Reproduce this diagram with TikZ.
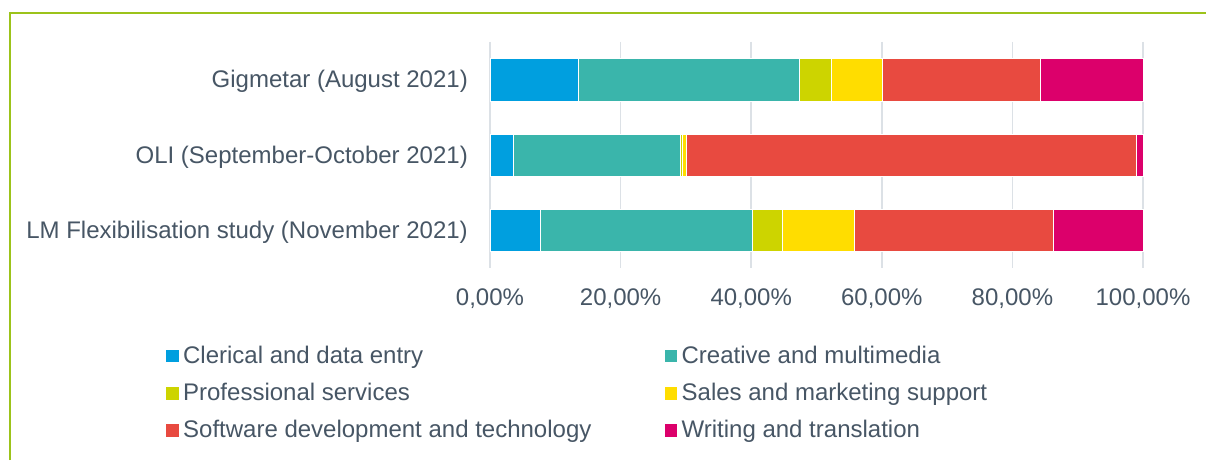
\documentclass[tikz,border=0pt]{standalone}
\usepackage{fontspec}
\setmainfont{Liberation Sans}
\definecolor{cblue}{HTML}{009FDF}
\definecolor{cteal}{HTML}{3AB5AB}
\definecolor{colive}{HTML}{CDD400}
\definecolor{cyellow}{HTML}{FFDD00}
\definecolor{cred}{HTML}{E84A40}
\definecolor{cmag}{HTML}{DC006B}
\definecolor{ctext}{HTML}{475665}
\definecolor{cgrid}{HTML}{DCE1E6}
\definecolor{cframe}{HTML}{9CC31A}
\begin{document}
\begin{tikzpicture}[x=1pt,y=-1pt,
  lbl/.style={font=\fontsize{24}{27}\selectfont,text=ctext,inner sep=0pt},
  grid/.style={draw=cgrid,line width=1.5pt},
  seg/.style={draw=white,line width=0.4pt},
  key/.style={minimum size=12.5pt,inner sep=0pt}]
\useasboundingbox (0,0) rectangle (1206,460);
\fill[white] (0,0) rectangle (1206,460);
% frame
\draw[cframe,line width=2pt] (10,460) -- (10,13) -- (1206,13);
% grid
\foreach \i in {0,...,5}{
  \draw[grid] ({490+130.6*\i},42) -- ({490+130.6*\i},268);
}
% bars
\newcommand{\barrow}[3]{%
  \foreach \a/\b/\c in {#3}{
    \fill[\c] ({490+6.53*\a},#1) rectangle ({490+6.53*\b},#2);
    \draw[seg] ({490+6.53*\a},#1) rectangle ({490+6.53*\b},#2);
  }
}
\barrow{58}{101}{0/13.5/cblue,13.5/47.3/cteal,47.3/52.2/colive,52.2/60.1/cyellow,60.1/84.2/cred,84.2/100/cmag}
\barrow{134}{176}{0/3.6/cblue,3.6/29.2/cteal,29.2/29.5/colive,29.5/30.1/cyellow,30.1/99.0/cred,99.0/100/cmag}
\barrow{209}{251}{0/7.7/cblue,7.7/40.2/cteal,40.2/44.8/colive,44.8/55.7/cyellow,55.7/86.3/cred,86.3/100/cmag}
% category labels
\node[lbl,anchor=base east] (c1) at (468,87.5) {Gigmetar (August 2021)};
\node[lbl,anchor=base east] (c2) at (468,163) {OLI (September-October 2021)};
\node[lbl,anchor=base east] (c3) at (468,238) {LM Flexibilisation study (November 2021)};
% tick labels
\foreach \i/\t in {0/{0,00\%},1/{20,00\%},2/{40,00\%},3/{60,00\%},4/{80,00\%},5/{100,00\%}}{
  \node[lbl,anchor=base] (t\i) at ({490+130.6*\i},305.5) {\t};
}
% legend
\foreach \n/\x/\y/\c/\t in {
  k1/172.5/356/cblue/{Clerical and data entry},
  k2/671/356/cteal/{Creative and multimedia},
  k3/172.5/393.5/colive/{Professional services},
  k4/671/393.5/cyellow/{Sales and marketing support},
  k5/172.5/430.5/cred/{Software development and technology},
  k6/671/430.5/cmag/{Writing and translation}}{
  \node[key,fill=\c] (\n) at (\x,\y) {};
  \node[lbl,anchor=base west] (\n t) at ([xshift=4pt,yshift=-7pt]\n.center -| \n.east) {\t};
}
\end{tikzpicture}
\end{document}
